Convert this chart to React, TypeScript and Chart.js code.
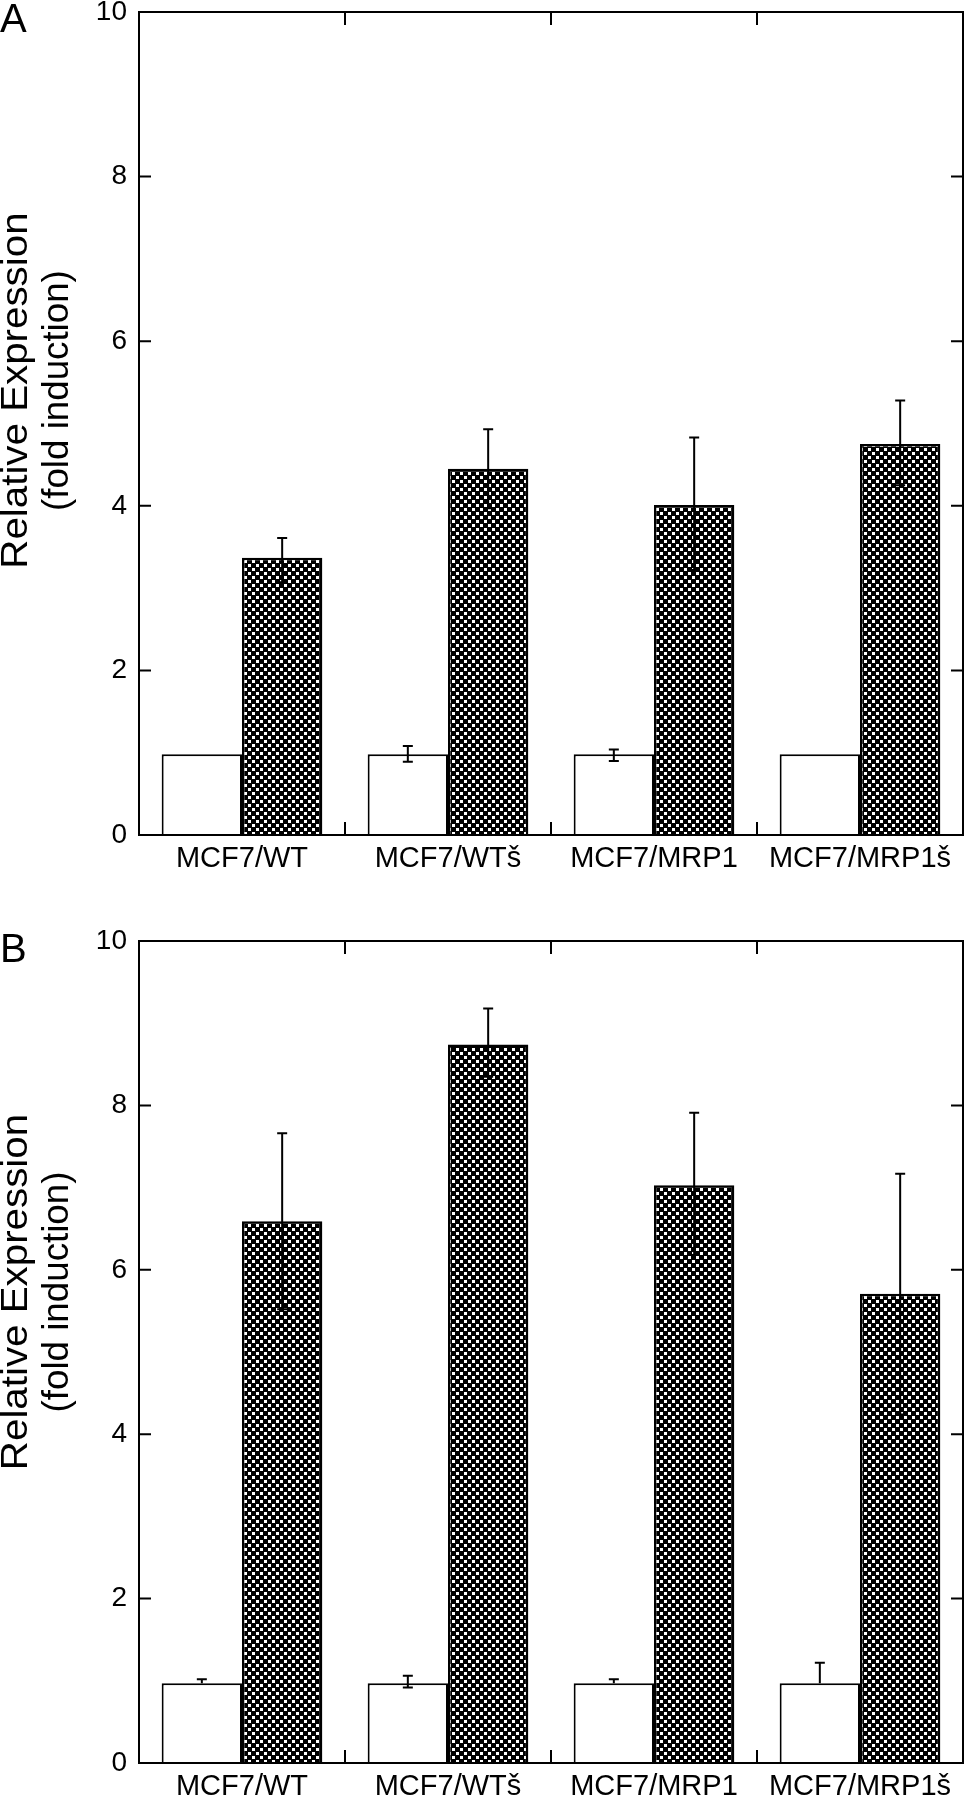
import React, { useEffect, useRef } from 'react';
import { Chart, registerables } from 'chart.js';

Chart.register(...registerables);

// ---------- data ----------
const categories = ['MCF7/WT', 'MCF7/WTš', 'MCF7/MRP1', 'MCF7/MRP1š'];
const yTickValues = [0, 2, 4, 6, 8, 10];
const yTitleLines = ['Relative Expression', '(fold induction)'];
const panelLetters = ['A', 'B'];

// Panel A
const aControl = [0.98, 0.98, 0.98, 0.98];
const aControlErrUp = [0, 0.1, 0.06, 0];
const aControlErrDown = [0, 0.09, 0.08, 0];
const aTreated = [3.37, 4.45, 4.01, 4.75];
const aTreatedErrUp = [0.24, 0.48, 0.82, 0.53];
const aTreatedErrDown = [0.3, 0.48, 0.79, 0.5];

// Panel B
const bControl = [0.97, 0.97, 0.97, 0.97];
const bControlErrUp = [0.05, 0.09, 0.05, 0.25];
const bControlErrDown = [0, 0.05, 0, 0];
const bTreated = [6.59, 8.74, 7.03, 5.71];
const bTreatedErrUp = [1.07, 0.44, 0.88, 1.46];
const bTreatedErrDown = [1.07, 0.39, 0.85, 1.47];

// ---------- styling ----------
const FONT = "'Liberation Sans', Arial, Helvetica, sans-serif";
const W = 965;
const H = 900;

function makeChecker(): CanvasPattern | string {
  const c = document.createElement('canvas');
  c.width = 8;
  c.height = 8;
  const g = c.getContext('2d');
  if (!g) return '#555';
  g.fillStyle = '#000';
  g.fillRect(0, 0, 8, 8);
  g.fillStyle = '#fff';
  g.fillRect(4, 0, 3, 3);
  g.fillRect(0, 4, 3, 3);
  return g.createPattern(c, 'repeat') || '#555';
}

const errorBarPlugin = {
  id: 'errorBars',
  afterDatasetsDraw(chart: any) {
    const { ctx } = chart;
    const y = chart.scales.y;
    ctx.save();
    ctx.strokeStyle = '#000';
    ctx.lineWidth = 2;
    chart.data.datasets.forEach((ds: any, di: number) => {
      const meta = chart.getDatasetMeta(di);
      meta.data.forEach((bar: any, i: number) => {
        const v = ds.data[i];
        const up = ds.errUp ? ds.errUp[i] : 0;
        const dn = ds.errDown ? ds.errDown[i] : 0;
        if (!up && !dn) return;
        const x = bar.x;
        const yTop = y.getPixelForValue(v + up);
        const yBot = y.getPixelForValue(v - dn);
        ctx.beginPath();
        ctx.moveTo(x, yTop);
        ctx.lineTo(x, yBot);
        if (up) {
          ctx.moveTo(x - 5, yTop);
          ctx.lineTo(x + 5, yTop);
        }
        if (dn) {
          ctx.moveTo(x - 5, yBot);
          ctx.lineTo(x + 5, yBot);
        }
        ctx.stroke();
      });
    });
    ctx.restore();
  },
};

const framePlugin = {
  id: 'frameTicks',
  afterDatasetsDraw(chart: any) {
    const { ctx, chartArea } = chart;
    const { left, right, top, bottom } = chartArea;
    const x = chart.scales.x;
    const y = chart.scales.y;
    ctx.save();
    ctx.strokeStyle = '#000';
    ctx.lineWidth = 2;
    ctx.strokeRect(left, top, right - left, bottom - top);
    ctx.beginPath();
    y.ticks.forEach((t: any) => {
      const py = y.getPixelForValue(t.value);
      ctx.moveTo(left, py);
      ctx.lineTo(left + 12, py);
      ctx.moveTo(right, py);
      ctx.lineTo(right - 12, py);
    });
    for (let i = 1; i < categories.length; i++) {
      const px = (x.getPixelForValue(i - 1) + x.getPixelForValue(i)) / 2;
      ctx.moveTo(px, top);
      ctx.lineTo(px, top + 13);
      ctx.moveTo(px, bottom);
      ctx.lineTo(px, bottom - 13);
    }
    ctx.stroke();
    ctx.restore();
  },
};

function makeTextPlugin(letter: string, letterBaseline: number, titleCenterFrac: number) {
  return {
    id: 'panelText',
    afterDraw(chart: any) {
      const { ctx, chartArea } = chart;
      ctx.save();
      ctx.fillStyle = '#000';
      ctx.font = `40px ${FONT}`;
      ctx.textAlign = 'left';
      ctx.textBaseline = 'alphabetic';
      ctx.fillText(letter, 0, letterBaseline);

      const cy = chartArea.top + (chartArea.bottom - chartArea.top) * titleCenterFrac;
      const baselines = [27, 68];
      const stretch = [1.12, 1.02];
      ctx.font = `36px ${FONT}`;
      ctx.textAlign = 'center';
      yTitleLines.forEach((line, i) => {
        ctx.save();
        ctx.translate(baselines[i], cy);
        ctx.rotate(-Math.PI / 2);
        ctx.scale(stretch[i], 1);
        ctx.fillText(line, 0, 0);
        ctx.restore();
      });
      ctx.restore();
    },
  };
}

function buildChart(
  canvas: HTMLCanvasElement,
  control: number[],
  controlUp: number[],
  controlDown: number[],
  treated: number[],
  treatedUp: number[],
  treatedDown: number[],
  padTop: number,
  xAxisHeight: number,
  letter: string,
  letterBaseline: number,
  titleFrac: number
) {
  const pattern = makeChecker();
  return new Chart(canvas, {
    type: 'bar',
    data: {
      labels: categories,
      datasets: [
        {
          label: 'control',
          data: control,
          backgroundColor: '#ffffff',
          borderColor: '#000000',
          borderWidth: 2,
          errUp: controlUp,
          errDown: controlDown,
        } as any,
        {
          label: 'treated',
          data: treated,
          backgroundColor: pattern as any,
          borderColor: '#000000',
          borderWidth: 2.5,
          errUp: treatedUp,
          errDown: treatedDown,
        } as any,
      ],
    },
    options: {
      animation: false,
      responsive: false,
      devicePixelRatio: 1,
      layout: { padding: { top: padTop, right: 2, left: 0, bottom: 0 } },
      datasets: { bar: { categoryPercentage: 0.78, barPercentage: 1 } },
      plugins: { legend: { display: false }, tooltip: { enabled: false } },
      scales: {
        x: {
          grid: { display: false, drawTicks: false },
          border: { display: false },
          ticks: {
            color: '#000',
            font: { family: FONT, size: 29 },
            padding: 7,
            maxRotation: 0,
            autoSkip: false,
          },
          afterFit: (s: any) => {
            s.height = xAxisHeight;
            s.paddingLeft = 0;
            s.paddingRight = 0;
          },
        },
        y: {
          min: 0,
          max: 10,
          grid: { display: false, drawTicks: false },
          border: { display: false },
          ticks: {
            color: '#000',
            font: { family: FONT, size: 28 },
            padding: 12,
          },
          afterBuildTicks: (s: any) => {
            s.ticks = yTickValues.map((v) => ({ value: v }));
          },
          afterFit: (s: any) => {
            s.width = 139;
            s.paddingTop = 0;
            s.paddingBottom = 0;
          },
        },
      },
    } as any,
    plugins: [errorBarPlugin, framePlugin, makeTextPlugin(letter, letterBaseline, titleFrac)],
  });
}

export default function App() {
  const refA = useRef<HTMLCanvasElement>(null);
  const refB = useRef<HTMLCanvasElement>(null);

  useEffect(() => {
    const a = buildChart(
      refA.current!,
      aControl, aControlErrUp, aControlErrDown,
      aTreated, aTreatedErrUp, aTreatedErrDown,
      12, 65, panelLetters[0], 32, 0.46
    );
    const b = buildChart(
      refB.current!,
      bControl, bControlErrUp, bControlErrDown,
      bTreated, bTreatedErrUp, bTreatedErrDown,
      41, 37, panelLetters[1], 62, 0.427
    );
    return () => {
      a.destroy();
      b.destroy();
    };
  }, []);

  return (
    <div style={{ position: 'absolute', left: 0, top: 0, width: W, height: 2 * H, background: '#fff' }}>
      <canvas ref={refA} width={W} height={H} style={{ position: 'absolute', left: 0, top: 0, width: W, height: H }} />
      <canvas ref={refB} width={W} height={H} style={{ position: 'absolute', left: 0, top: H, width: W, height: H }} />
    </div>
  );
}
